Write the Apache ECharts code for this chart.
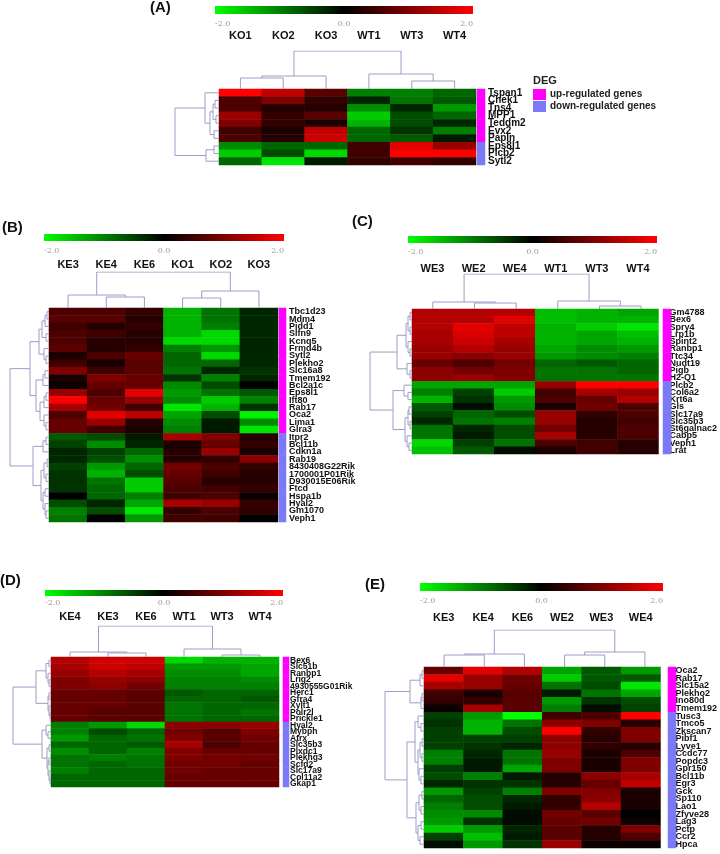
<!DOCTYPE html>
<html>
<head>
<meta charset="utf-8">
<script src="https://cdn.jsdelivr.net/npm/echarts@6/dist/echarts.min.js"></script>
<style>
html, body { margin: 0; padding: 0; background: #fff; }
#chart { width: 720px; height: 854px; }
</style>
</head>
<body>
<div id="chart"></div>
<script>
// ---- data ----
var tickLabels = ['-2.0', '0.0', '2.0'];

// (A) KO vs WT
var colsA = ['KO1', 'KO2', 'KO3', 'WT1', 'WT3', 'WT4'];
var genesA = ['Tspan1', 'Chek1', 'Tns4', 'MPP1', 'Teddm2', 'Evx2', 'Papln', 'Eps8l1', 'Plcb2', 'Sytl2'];
var nUpA = 7;
var valsA = [
  [2.0, 1.5, 0.7, -1.0, -1.0, -0.8],
  [0.6, 1.0, 0.4, -0.3, -0.9, -0.7],
  [0.6, 0.3, 0.3, -1.1, -0.3, -1.2],
  [1.2, 0.4, 0.7, -1.6, -0.6, -0.8],
  [1.0, 0.4, 0.2, -1.4, -0.6, -0.3],
  [0.5, 0.2, 1.5, -0.8, -0.4, -1.0],
  [0.6, 0.3, 1.6, -0.8, -0.7, -0.2],
  [-1.1, -0.8, -0.8, 0.5, 1.8, 1.2],
  [-1.6, -0.6, -1.7, 0.5, 2.0, 2.0],
  [-0.8, -1.8, -0.2, 0.4, 0.5, 0.4]
];
var colTreeA = [[[0, 1, 11], 2, 13], [3, [4, 5, 8], 15], 38];
var rowTreeA = [[0, [[[1, 2, 4], [3, 4, 3], 6], [5, 6, 5], 9], 14], [[7, 8, 5], 9, 13], 44];

// (B) KE vs KO
var colsB = ['KE3', 'KE4', 'KE6', 'KO1', 'KO2', 'KO3'];
var genesB = ['Tbc1d23', 'Mdm4', 'Pidd1', 'Slfn9', 'Kcnq5', 'Frmd4b', 'Sytl2', 'Plekho2', 'Slc16a8', 'Tmem192',
  'Bcl2a1c', 'Eps8l1', 'Ift80', 'Rab17', 'Oca2', 'Lima1', 'Glra3', 'Itpr2', 'Bcl11b', 'Cdkn1a', 'Rab19',
  '8430408G22Rik', '1700001P01Rik', 'D930015E06Rik', 'Ftcd', 'Hspa1b', 'Hyal2', 'Gm1070', 'Veph1'];
var nUpB = 17;
var valsB = [
  [0.6, 0.6, 0.4, -1.4, -0.9, -0.3],
  [0.7, 0.7, 0.3, -1.4, -0.9, -0.3],
  [0.5, 0.3, 0.4, -1.4, -1.0, -0.3],
  [0.6, 0.5, 0.3, -1.4, -1.7, -0.3],
  [0.6, 0.3, 0.3, -1.7, -1.7, -0.3],
  [0.7, 0.3, 0.4, -1.0, -1.2, -0.3],
  [0.2, 0.6, 0.8, -0.8, -1.7, -0.3],
  [0.5, 0.2, 0.7, -0.8, -0.8, -0.3],
  [1.0, 0.5, 0.7, -0.9, -0.3, -0.4],
  [0.2, 1.0, 0.8, -0.4, -1.0, -0.3],
  [0.1, 0.8, 0.8, -1.1, -0.6, 0.0],
  [1.2, 0.6, 1.8, -1.2, -0.9, -0.7],
  [2.0, 0.8, 1.2, -1.1, -1.6, -1.0],
  [1.3, 0.9, 0.5, -1.8, -1.4, -0.4],
  [0.6, 1.8, 1.5, -1.3, -0.6, -1.9],
  [0.8, 1.2, 0.3, -1.1, -0.2, -1.1],
  [0.8, 0.5, 0.2, -1.0, -0.2, -1.8],
  [-0.7, -0.6, -0.2, 1.3, 1.0, 0.3],
  [-0.5, -1.1, -0.3, 0.2, 0.8, 0.4],
  [-0.3, -0.5, -0.8, 0.3, 1.2, 0.2],
  [-0.3, -0.6, -1.1, 0.3, 0.4, 1.1],
  [-0.5, -1.2, -0.8, 0.9, 0.6, 0.4],
  [-0.4, -1.4, -0.6, 0.8, 0.5, 0.3],
  [-0.4, -0.9, -1.6, 0.7, 0.3, 0.3],
  [-0.4, -0.8, -1.6, 0.6, 0.5, 0.4],
  [0.0, -0.8, -1.0, 0.5, 0.6, 0.1],
  [-0.6, -0.3, -1.3, 1.3, 1.2, 0.4],
  [-1.0, -0.6, -1.8, 0.4, 0.6, 0.4],
  [-0.9, 0.0, -1.2, 0.5, 0.5, 0.0]
];
var colTreeB = [[0, [1, 2, 11], 13], [[3, 4, 10], 5, 17], 36];
var rowTreeB = [
  [[[[[0, 1, 2], 2, 4], [3, 4, 3], 7], [5, [6, 7, 3], 5], 10],
   [[[8, 9, 4], 10, 6], [[[11, 12, 3], 13, 5], [14, [15, 16, 3], 5], 9], 13], 19],
  [[[17, 18, 3], 19, 6],
   [[[20, 21, 2], [22, 23, 3], 5], [[24, 25, 4], [26, [27, 28, 3], 4], 6], 8], 16],
  39];

// (C) WE vs WT
var colsC = ['WE3', 'WE2', 'WE4', 'WT1', 'WT3', 'WT4'];
var genesC = ['Gm4788', 'Bex6', 'Spry4', 'Lrp1b', 'Spint2', 'Ranbp1', 'Ttc34', 'Nudt19', 'Pigb', 'H2-Q1',
  'Plcb2', 'Col6a2', 'Krt6a', 'Gls', 'Slc17a9', 'Slc35b3', 'St6galnac2', 'Cabp5', 'Veph1', 'Lrat'];
var nUpC = 10;
var valsC = [
  [1.4, 1.4, 1.4, -1.5, -1.4, -1.3],
  [1.4, 1.4, 1.8, -1.5, -1.4, -1.4],
  [1.4, 1.8, 1.5, -1.4, -1.6, -1.8],
  [1.3, 1.7, 1.5, -1.4, -1.3, -1.5],
  [1.3, 1.6, 1.3, -1.4, -1.3, -1.4],
  [1.2, 1.4, 1.2, -1.3, -1.1, -1.2],
  [1.2, 1.1, 1.2, -1.2, -1.1, -1.0],
  [0.8, 0.6, 0.9, -0.8, -0.7, -0.8],
  [1.1, 0.9, 1.0, -0.9, -0.9, -0.8],
  [1.1, 1.2, 1.0, -0.9, -0.9, -0.9],
  [-1.3, -1.3, -1.3, 1.2, 2.0, 2.0],
  [-1.0, -0.5, -1.6, 0.5, 1.3, 1.2],
  [-1.4, -0.4, -1.2, 0.6, 0.8, 1.4],
  [-0.7, -0.1, -1.1, 0.2, 0.9, 0.6],
  [-0.5, -0.8, -0.6, 1.2, 0.4, 0.6],
  [-0.3, -0.9, -1.0, 1.2, 0.3, 0.5],
  [-0.9, -0.3, -0.6, 0.9, 0.3, 0.6],
  [-0.9, -0.2, -0.6, 1.3, 0.3, 0.6],
  [-1.7, -0.5, -0.9, 0.6, 0.5, 0.3],
  [-1.5, -0.7, -0.1, 0.2, 0.5, 0.3]
];
var colTreeC = [[0, [1, 2, 6], 7], [3, [4, 5, 3], 8], 35];
var rowTreeC = [
  [[[[0, 1, 2], [2, 3, 2], 4], [4, [5, 6, 2], 4], 6], [7, [8, 9, 2], 5], 15],
  [[10, [11, 12, 4], 8], [[[13, 14, 3], [15, 16, 2], 4], [17, [18, 19, 3], 5], 7], 19],
  42];

// (D) KE vs WT
var colsD = ['KE4', 'KE3', 'KE6', 'WT1', 'WT3', 'WT4'];
var genesD = ['Bex6', 'Slc51b', 'Ranbp1', 'Lrig2', '4930555G01Rik', 'Herc1', 'Gfra4', 'Xylt1', 'Polr2l', 'Prickle1',
  'Hyal2', 'Mybph', 'Atrx', 'Slc35b3', 'Plxdc1', 'Plekhg3', 'Scfd2', 'Slc17a9', 'Col11a2', 'Gkap1'];
var nUpD = 10;
var valsD = [
  [1.4, 1.6, 1.6, -1.7, -1.4, -1.4],
  [1.3, 1.6, 1.5, -1.2, -1.2, -1.3],
  [1.2, 1.4, 1.3, -1.1, -1.1, -1.3],
  [1.0, 1.2, 1.1, -1.0, -1.0, -1.1],
  [1.0, 1.1, 0.9, -1.0, -1.0, -1.0],
  [0.8, 0.8, 0.7, -0.7, -0.8, -0.8],
  [0.8, 0.8, 0.7, -0.8, -0.8, -0.7],
  [0.8, 0.8, 0.7, -0.9, -0.8, -0.8],
  [0.8, 0.7, 0.7, -0.9, -0.8, -0.9],
  [0.8, 0.7, 0.7, -0.9, -0.8, -0.8],
  [-1.0, -1.2, -1.7, 1.1, 1.1, 1.2],
  [-1.0, -0.6, -0.8, 0.9, 0.7, 1.0],
  [-1.2, -0.8, -0.9, 1.0, 0.7, 0.9],
  [-0.8, -0.8, -0.7, 1.3, 0.6, 0.8],
  [-1.1, -0.8, -1.0, 1.0, 0.8, 0.8],
  [-0.9, -1.0, -0.9, 1.0, 0.9, 0.9],
  [-0.9, -0.8, -0.9, 0.9, 0.9, 0.8],
  [-1.0, -0.8, -0.8, 0.9, 0.8, 0.8],
  [-0.8, -0.8, -0.8, 0.8, 0.8, 0.8],
  [-0.8, -0.8, -0.8, 0.8, 0.8, 0.8]
];
var colTreeD = [[0, [1, 2, 4], 5], [3, [4, 5, 2], 8], 31];
var rowTreeD = [
  [[[0, 1, 2], [2, [3, 4, 2], 3], 5], [[5, 6, 2], [7, [8, 9, 1], 2], 3], 15],
  [[10, [11, 12, 3], 5], [[13, 14, 2], [[15, 16, 2], [17, [18, 19, 1], 2], 3], 4], 9],
  38];

// (E) KE vs WE
var colsE = ['KE3', 'KE4', 'KE6', 'WE2', 'WE3', 'WE4'];
var genesE = ['Oca2', 'Rab17', 'Slc15a2', 'Plekho2', 'Ino80d', 'Tmem192', 'Tusc3', 'Tmco5', 'Zkscan7', 'Pibf1',
  'Lyve1', 'Ccdc77', 'Popdc3', 'Gpr150', 'Bcl11b', 'Egr3', 'Gck', 'Sp110', 'Lao1', 'Zfyve28', 'Lag3', 'Pctp', 'Ccr2', 'Hpca'];
var nUpE = 6;
var valsE = [
  [0.8, 1.8, 1.4, -1.3, -0.7, -1.2],
  [1.8, 1.2, 0.9, -1.6, -0.7, -0.7],
  [1.3, 1.2, 0.8, -0.9, -0.6, -1.8],
  [0.5, 0.2, 0.7, -0.2, -0.9, -1.3],
  [0.4, 0.4, 0.7, -1.2, -0.4, -0.6],
  [0.1, 1.3, 0.7, -1.0, -0.1, -0.5],
  [-0.5, -1.2, -2.0, 0.5, 0.6, 2.0],
  [-0.4, -1.4, -0.9, 1.1, 1.0, 0.3],
  [-0.5, -1.4, -0.6, 2.0, 0.4, 1.0],
  [-0.5, -0.5, -0.5, 1.1, 0.3, 1.0],
  [-0.5, -0.4, -0.3, 1.1, 0.4, 0.3],
  [-1.0, -0.3, -0.9, 1.2, 0.2, 0.6],
  [-1.0, -0.2, -0.9, 1.0, 0.2, 1.0],
  [-0.5, -0.2, -1.3, 1.0, 0.2, 1.0],
  [-0.6, -1.0, -0.2, 0.3, 1.1, 1.3],
  [-0.3, -0.4, -0.4, 0.3, 0.8, 1.5],
  [-1.2, -0.5, -1.0, 1.0, 1.0, 0.2],
  [-0.8, -0.6, -0.3, 0.4, 1.1, 0.2],
  [-1.0, -0.6, -0.2, 0.4, 1.4, 0.2],
  [-1.1, -1.1, -0.1, 0.9, 0.7, 0.0],
  [-1.2, -0.4, -0.1, 0.8, 0.9, 0.1],
  [-1.6, -1.2, -0.3, 0.7, 0.3, 1.0],
  [-0.5, -1.5, -0.2, 0.7, 0.3, 0.6],
  [-0.1, -1.2, -0.4, 1.2, 0.1, 0.1]
];
var colTreeE = [[[0, 1, 12], 2, 13], [[3, 4, 12], 5, 15], 37];
var rowTreeE = [
  [[[0, 1, 2], 2, 4], [[3, 4, 2], 5, 3], 14],
  [[[6, [7, 8, 3], 6], [[[9, 10, 2], [11, 12, 2], 4], [13, [14, 15, 3], 5], 6], 9],
   [[[16, 17, 2], [18, 19, 3], 5], [[20, 21, 3], [22, 23, 4], 6], 8], 17],
  39];

// ---- layout (pixels) ----
var panels = [
  { tag: '(A)', tagX: 150, tagY: 8, cols: colsA, genes: genesA, nUp: nUpA, vals: valsA, colTree: colTreeA, rowTree: rowTreeA,
    left: 219, top: 89, width: 257, height: 76, colTop: 51, rowLeft: 175, sideLeft: 477, sideW: 8,
    barX: 215, barY: 6, barW: 258, barH: 8, tickY: 24, labMargin: 48, geneMargin: 12, geneFont: 10 },
  { tag: '(B)', tagX: 2, tagY: 228, cols: colsB, genes: genesB, nUp: nUpB, vals: valsB, colTree: colTreeB, rowTree: rowTreeB,
    left: 49, top: 308, width: 229, height: 214, colTop: 272, rowLeft: 10, sideLeft: 279, sideW: 7,
    barX: 44, barY: 234, barW: 240, barH: 7, tickY: 251, labMargin: 38, geneMargin: 11, geneFont: 9 },
  { tag: '(C)', tagX: 352, tagY: 222, cols: colsC, genes: genesC, nUp: nUpC, vals: valsC, colTree: colTreeC, rowTree: rowTreeC,
    left: 412, top: 309, width: 250, height: 145, colTop: 274, rowLeft: 370, sideLeft: 663, sideW: 8,
    barX: 408, barY: 236, barW: 249, barH: 7, tickY: 252, labMargin: 35, geneMargin: 11, geneFont: 9 },
  { tag: '(D)', tagX: 0, tagY: 581, cols: colsD, genes: genesD, nUp: nUpD, vals: valsD, colTree: colTreeD, rowTree: rowTreeD,
    left: 51, top: 657, width: 228, height: 130, colTop: 626, rowLeft: 13, sideLeft: 283, sideW: 6,
    barX: 45, barY: 590, barW: 238, barH: 6, tickY: 603, labMargin: 35, geneMargin: 11, geneFont: 8.5 },
  { tag: '(E)', tagX: 365, tagY: 585, cols: colsE, genes: genesE, nUp: nUpE, vals: valsE, colTree: colTreeE, rowTree: rowTreeE,
    left: 424, top: 667, width: 241, height: 181, colTop: 630, rowLeft: 385, sideLeft: 668, sideW: 8,
    barX: 420, barY: 583, barW: 243, barH: 8, tickY: 601, labMargin: 44, geneMargin: 15, geneFont: 9 }
];

var upColor = '#ff00ff';
var downColor = '#7b79f5';
var treeColor = '#9c9cc8';
var fontFam = '"Liberation Sans", Arial, sans-serif';

// turn a nested [left, right, height] tree into U-shaped polylines
function treeLines(tree, rows) {
  var out = [];
  function walk(node) {
    if (typeof node === 'number') return { p: node, h: 0 };
    var a = walk(node[0]), b = walk(node[1]), h = node[2];
    var pts = [[a.p, a.h], [a.p, h], [b.p, h], [b.p, b.h]];
    if (rows) pts = pts.map(function (q) { return [q[1], q[0]]; });
    out.push({ coords: pts });
    return { p: (a.p + b.p) / 2, h: h };
  }
  walk(tree);
  return out;
}

var grid = [], xAxis = [], yAxis = [], series = [], graphic = [], heatIdx = [];

panels.forEach(function (p) {
  var g = grid.length;
  var hidden = { axisLine: { show: false }, axisTick: { show: false }, splitLine: { show: false } };

  // heatmap
  grid.push({ left: p.left, top: p.top, width: p.width, height: p.height });
  xAxis.push(Object.assign({
    type: 'category', gridIndex: g, data: p.cols, position: 'top',
    axisLabel: { margin: p.labMargin, fontSize: 11, fontWeight: 'bold', color: '#111', fontFamily: fontFam, interval: 0 }
  }, hidden));
  yAxis.push(Object.assign({
    type: 'category', gridIndex: g, data: p.genes, inverse: true, position: 'right',
    axisLabel: { margin: p.geneMargin, fontSize: p.geneFont, fontWeight: 'bold', color: '#111', fontFamily: fontFam, interval: 0, lineHeight: p.geneFont }
  }, hidden));
  var cells = [];
  p.vals.forEach(function (row, r) {
    row.forEach(function (v, c) { cells.push([c, r, v]); });
  });
  heatIdx.push(series.length);
  series.push({ type: 'heatmap', xAxisIndex: g, yAxisIndex: g, data: cells, silent: true });

  // column dendrogram
  grid.push({ left: p.left, top: p.colTop, width: p.width, height: p.top - p.colTop });
  xAxis.push({ type: 'value', gridIndex: g + 1, min: -0.5, max: p.cols.length - 0.5, show: false });
  yAxis.push({ type: 'value', gridIndex: g + 1, min: 0, max: p.colTree[2], show: false });
  series.push({ type: 'lines', coordinateSystem: 'cartesian2d', xAxisIndex: g + 1, yAxisIndex: g + 1, polyline: true,
    data: treeLines(p.colTree, false), lineStyle: { color: treeColor, width: 1, opacity: 1 }, silent: true });

  // row dendrogram
  grid.push({ left: p.rowLeft, top: p.top, width: p.left - p.rowLeft, height: p.height });
  xAxis.push({ type: 'value', gridIndex: g + 2, min: 0, max: p.rowTree[2], inverse: true, show: false });
  yAxis.push({ type: 'value', gridIndex: g + 2, min: -0.5, max: p.genes.length - 0.5, inverse: true, show: false });
  series.push({ type: 'lines', coordinateSystem: 'cartesian2d', xAxisIndex: g + 2, yAxisIndex: g + 2, polyline: true,
    data: treeLines(p.rowTree, true), lineStyle: { color: treeColor, width: 1, opacity: 1 }, silent: true });

  // DEG side bar
  grid.push({ left: p.sideLeft, top: p.top, width: p.sideW, height: p.height });
  xAxis.push({ type: 'category', gridIndex: g + 3, data: ['DEG'], show: false });
  yAxis.push({ type: 'category', gridIndex: g + 3, data: p.genes, inverse: true, show: false });
  series.push({ type: 'heatmap', xAxisIndex: g + 3, yAxisIndex: g + 3, silent: true,
    data: p.genes.map(function (name, i) {
      return { value: [0, i, i < p.nUp ? 1 : -1], itemStyle: { color: i < p.nUp ? upColor : downColor } };
    }) });

  // colour key
  graphic.push({ type: 'rect', shape: { x: p.barX, y: p.barY, width: p.barW, height: p.barH }, silent: true,
    style: { fill: new echarts.graphic.LinearGradient(0, 0, 1, 0, [
      { offset: 0, color: '#00ff00' }, { offset: 0.5, color: '#000000' }, { offset: 1, color: '#ff0000' }]) } });
  var aligns = ['left', 'center', 'right'];
  tickLabels.forEach(function (t, i) {
    graphic.push({ type: 'text', x: p.barX + p.barW * i / 2, y: p.tickY, silent: true,
      style: { text: t, fill: '#999', fontSize: 8, fontFamily: '"DejaVu Serif", serif', align: aligns[i], verticalAlign: 'middle' } });
  });
  graphic.push({ type: 'text', x: p.tagX, y: p.tagY, silent: true,
    style: { text: p.tag, fill: '#111', fontSize: 15, fontWeight: 'bold', fontFamily: fontFam, verticalAlign: 'middle' } });
});

// DEG legend of panel A
graphic.push({ type: 'text', x: 533, y: 81, silent: true,
  style: { text: 'DEG', fill: '#222', fontSize: 11, fontWeight: 'bold', fontFamily: fontFam, verticalAlign: 'middle' } });
graphic.push({ type: 'rect', shape: { x: 533, y: 89, width: 13, height: 11 }, style: { fill: upColor }, silent: true });
graphic.push({ type: 'rect', shape: { x: 533, y: 101, width: 13, height: 11 }, style: { fill: downColor }, silent: true });
graphic.push({ type: 'text', x: 550, y: 94, silent: true,
  style: { text: 'up-regulated genes', fill: '#222', fontSize: 10, fontWeight: 'bold', fontFamily: fontFam, verticalAlign: 'middle' } });
graphic.push({ type: 'text', x: 550, y: 106, silent: true,
  style: { text: 'down-regulated genes', fill: '#222', fontSize: 10, fontWeight: 'bold', fontFamily: fontFam, verticalAlign: 'middle' } });

var chart = echarts.init(document.getElementById('chart'), null, { renderer: 'canvas' });
chart.setOption({
  backgroundColor: '#fff',
  animation: false,
  grid: grid,
  xAxis: xAxis,
  yAxis: yAxis,
  visualMap: {
    type: 'continuous', show: false, min: -2, max: 2, seriesIndex: heatIdx,
    inRange: { color: ['#00ff00', '#000000', '#ff0000'] }
  },
  series: series,
  graphic: graphic
});
</script>
</body>
</html>
